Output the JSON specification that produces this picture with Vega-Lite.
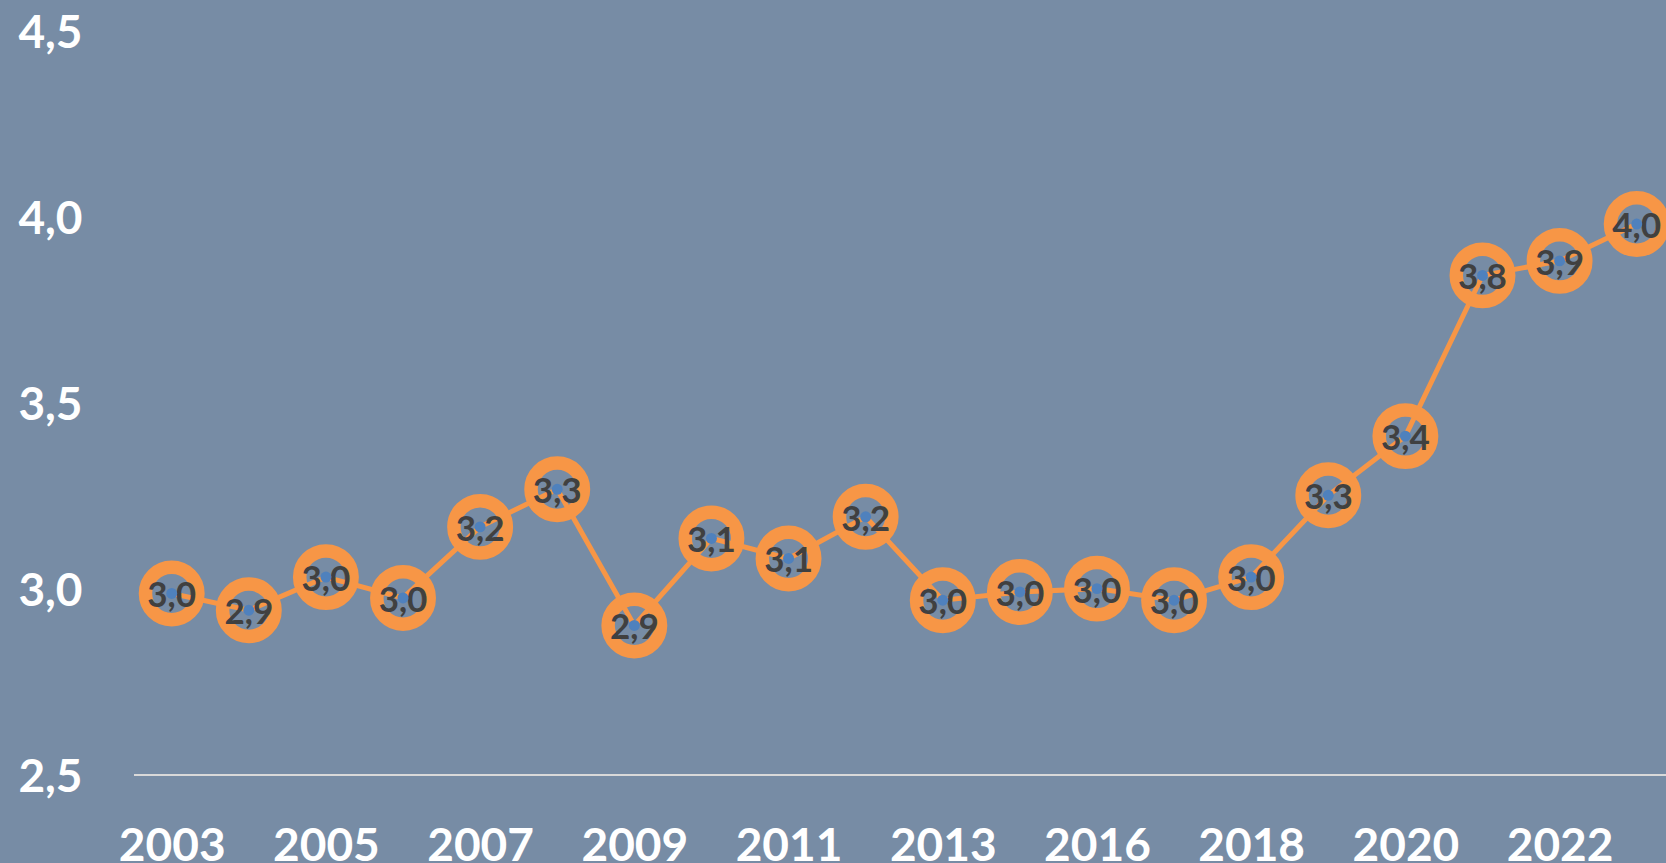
{
  "$schema": "https://vega.github.io/schema/vega-lite/v6.json",
  "width": 1532,
  "height": 744,
  "autosize": {"type": "none"},
  "padding": {"left": 134, "top": 31, "right": 0, "bottom": 88},
  "background": "#778ca5",
  "config": {
    "view": {"stroke": null},
    "locale": {"number": {"decimal": ",", "thousands": ".", "grouping": [3], "currency": ["", " €"]}},
    "font": "Lato"
  },
  "data": {
    "values": [
      {"year": "2003", "value": 2.988},
      {"year": "2004", "value": 2.943},
      {"year": "2005", "value": 3.032},
      {"year": "2006", "value": 2.976},
      {"year": "2007", "value": 3.167},
      {"year": "2008", "value": 3.268},
      {"year": "2009", "value": 2.902},
      {"year": "2010", "value": 3.136},
      {"year": "2011", "value": 3.082},
      {"year": "2012", "value": 3.194},
      {"year": "2013", "value": 2.970},
      {"year": "2015", "value": 2.992},
      {"year": "2016", "value": 3.001},
      {"year": "2017", "value": 2.970},
      {"year": "2018", "value": 3.032},
      {"year": "2019", "value": 3.252},
      {"year": "2020", "value": 3.411},
      {"year": "2021", "value": 3.843},
      {"year": "2022", "value": 3.882},
      {"year": "2023", "value": 3.981}
    ]
  },
  "layer": [
    {
      "mark": {"type": "rule", "color": "#d9d9d9", "strokeWidth": 2},
      "encoding": {"y": {"datum": 2.5, "type": "quantitative"}}
    },
    {
      "encoding": {
        "x": {
          "field": "year",
          "type": "ordinal",
          "scale": {"type": "point", "padding": 0, "range": [37.7, 1502.7]},
          "axis": {
            "title": null,
            "values": ["2003", "2005", "2007", "2009", "2011", "2013", "2016", "2018", "2020", "2022"],
            "domain": false,
            "ticks": false,
            "tickSize": 0,
            "labelAngle": 0,
            "labelFont": "Lato",
            "labelFontWeight": "bold",
            "labelFontSize": 46,
            "labelColor": "#ffffff",
            "labelBaseline": "alphabetic",
            "labelPadding": 85,
            "labelOverlap": false
          }
        },
        "y": {
          "field": "value",
          "type": "quantitative",
          "scale": {"domain": [2.5, 4.5], "nice": false, "zero": false},
          "axis": {
            "title": null,
            "values": [2.5, 3, 3.5, 4, 4.5],
            "format": ".1f",
            "domain": false,
            "ticks": false,
            "tickSize": 0,
            "grid": false,
            "labelFont": "Lato",
            "labelFontWeight": "bold",
            "labelFontSize": 46,
            "labelColor": "#ffffff",
            "labelAlign": "right",
            "labelBaseline": "alphabetic",
            "labelOffset": 16.5,
            "labelPadding": 52,
            "labelFlush": false,
            "labelOverlap": false
          }
        }
      },
      "layer": [
        {"mark": {"type": "line", "color": "#f79646", "strokeWidth": 5}},
        {"mark": {"type": "point", "shape": "circle", "filled": false, "fill": null, "stroke": "#f79646", "strokeWidth": 13.5, "size": 2750, "opacity": 1}},
        {"mark": {"type": "text", "font": "Lato", "fontWeight": "bold", "fontSize": 35, "color": "#404040", "align": "center", "baseline": "alphabetic", "dy": 14}, "encoding": {"text": {"field": "value", "type": "quantitative", "format": ".1f"}}},
        {"mark": {"type": "point", "shape": "circle", "filled": true, "color": "#4f81bd", "size": 120, "opacity": 1}}
      ]
    }
  ]
}
